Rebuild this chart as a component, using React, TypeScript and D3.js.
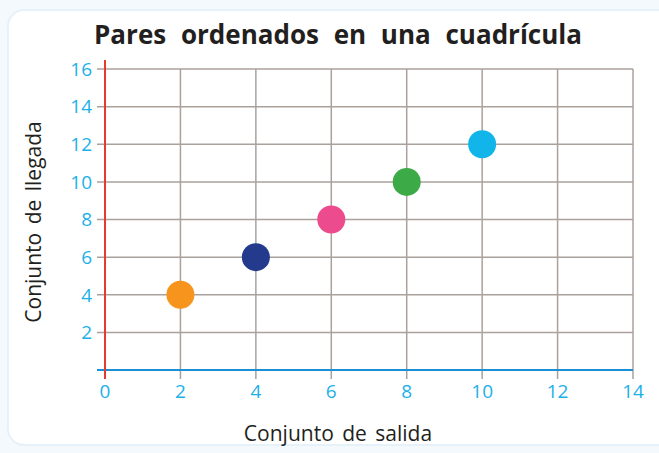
import React from "react";
import { scaleLinear } from "d3";

// Points (salida -> llegada)
const xValues = [2, 4, 6, 8, 10];
const yValues = [4, 6, 8, 10, 12];
const pointColors = ["#f7941d", "#243a8c", "#ec4b8d", "#3daa48", "#12b5ea"];
const xTicks = [0, 2, 4, 6, 8, 10, 12, 14];
const yTicks = [2, 4, 6, 8, 10, 12, 14, 16];

const title = "Pares ordenados en una cuadrícula";
const xLabel = "Conjunto de salida";
const yLabel = "Conjunto de llegada";

export default function App() {
  const W = 659;
  const H = 453;
  const x = scaleLinear().domain([0, 14]).range([105, 633]);
  const y = scaleLinear().domain([0, 16]).range([370, 69]);
  const font = "'Open Sans', 'DejaVu Sans', sans-serif";

  return (
    <svg
      width={W}
      height={H}
      style={{ position: "absolute", left: 0, top: 0, display: "block" }}
    >
      <rect x={0} y={0} width={W} height={H} fill="#f3f9fd" />
      <rect
        x={8}
        y={10}
        width={W + 20}
        height={435}
        rx={16}
        fill="#ffffff"
        stroke="#e6f1f9"
        strokeWidth={2}
      />

      <text
        x={338}
        y={44}
        textAnchor="middle"
        fontFamily={font}
        fontWeight={700}
        fontSize={26}
        wordSpacing={8}
        fill="#231f20"
      >
        {title}
      </text>

      {/* horizontal grid */}
      {yTicks.map((t) => (
        <line
          key={`h-${t}`}
          x1={97}
          x2={x(14)}
          y1={y(t)}
          y2={y(t)}
          stroke="#aaa19b"
          strokeWidth={1.5}
        />
      ))}
      {/* vertical grid */}
      {xTicks.slice(1).map((t) => (
        <line
          key={`v-${t}`}
          x1={x(t)}
          x2={x(t)}
          y1={y(16)}
          y2={379}
          stroke="#aaa19b"
          strokeWidth={1.5}
        />
      ))}

      {/* axes */}
      <line x1={97} x2={x(14)} y1={y(0)} y2={y(0)} stroke="#1b8fd8" strokeWidth={2} />
      <line x1={x(0)} x2={x(0)} y1={60} y2={379} stroke="#e8392f" strokeWidth={2} />

      {/* tick labels */}
      {yTicks.map((t) => (
        <text
          key={`yl-${t}`}
          x={92}
          y={y(t)}
          dy="0.36em"
          textAnchor="end"
          fontFamily={font}
          fontSize={19}
          fill="#1cb0ea"
        >
          {t}
        </text>
      ))}
      {xTicks.map((t) => (
        <text
          key={`xl-${t}`}
          x={x(t)}
          y={398}
          textAnchor="middle"
          fontFamily={font}
          fontSize={19}
          fill="#1cb0ea"
        >
          {t}
        </text>
      ))}

      {/* points */}
      {xValues.map((v, i) => (
        <circle key={i} cx={x(v)} cy={y(yValues[i])} r={14} fill={pointColors[i]} />
      ))}

      {/* axis titles */}
      <text
        x={338}
        y={441}
        textAnchor="middle"
        fontFamily={font}
        fontSize={21}
        wordSpacing={3}
        fill="#231f20"
      >
        {xLabel}
      </text>
      <text
        transform={`translate(41, 222) rotate(-90)`}
        textAnchor="middle"
        fontFamily={font}
        fontSize={21}
        wordSpacing={3}
        fill="#231f20"
      >
        {yLabel}
      </text>
    </svg>
  );
}
